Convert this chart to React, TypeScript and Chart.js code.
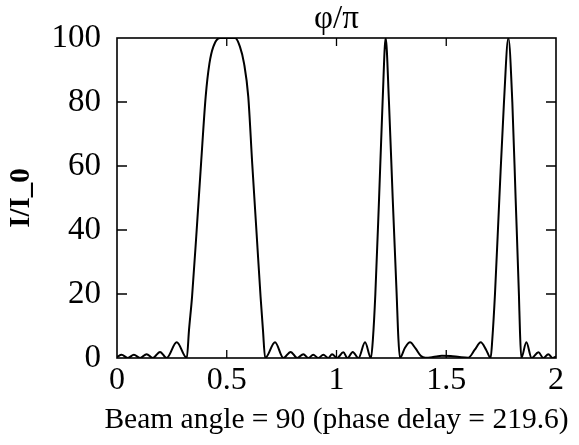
import React, { useEffect, useRef } from "react";
import { Chart, registerables } from "chart.js";

Chart.register(...registerables);

const phi = [
  0.0, 0.021, 0.049, 0.077, 0.105, 0.135, 0.163, 0.196, 0.226, 0.272, 0.318,
  0.328, 0.342, 0.363, 0.383, 0.404, 0.421, 0.439, 0.469, 0.503, 0.538,
  0.56, 0.579, 0.598, 0.616, 0.635, 0.654, 0.665, 0.675,
  0.72, 0.758, 0.791, 0.821, 0.849, 0.872, 0.894, 0.917, 0.94, 0.963, 0.98,
  1.003, 1.031, 1.05, 1.074, 1.1, 1.13, 1.157,
  1.166, 1.177, 1.194, 1.21, 1.224, 1.239, 1.256, 1.274, 1.282, 1.289,
  1.312, 1.335, 1.36, 1.385, 1.405, 1.44, 1.48, 1.52, 1.56, 1.6,
  1.63, 1.657, 1.682, 1.702,
  1.71, 1.722, 1.742, 1.763, 1.783, 1.801, 1.816, 1.831, 1.836, 1.842,
  1.865, 1.889, 1.92, 1.942, 1.965, 1.985, 2.0,
];

const intensity = [
  0.3, 1.0, 0, 1.0, 0, 1.2, 0, 1.9, 0, 4.9, 0,
  8.7, 19.2, 40, 60.8, 81.7, 92, 97.3, 100, 100, 100,
  97.3, 92, 81.7, 60.8, 40, 19.2, 8.7, 0,
  4.9, 0, 1.9, 0, 1.2, 0, 1.0, 0, 1.0, 0, 1.2,
  0, 1.8, 0, 1.9, 0, 4.9, 0,
  6, 20, 50, 80, 100, 80, 50, 20, 6, 0,
  3.2, 4.9, 3.0, 0.6, 0.1, 0.3, 0.7, 0.6, 0.3, 0.1,
  2.6, 4.9, 2.5, 0,
  6, 20, 50, 80, 100, 80, 50, 20, 8, 0,
  4.9, 0, 1.8, 0, 1.2, 0, 0.5,
];

const xTicks = [0, 0.5, 1, 1.5, 2];
const xTickLabels = ["0", "0.5", "1", "1.5", "2"];
const yTicks = [0, 20, 40, 60, 80, 100];

const topTitle = "φ/π";
const xTitle = "Beam angle = 90 (phase delay = 219.6)";
const yTitle = "I/I_0";

const FONT = "'Liberation Serif', 'Times New Roman', serif";

const frameTicks = {
  id: "frameTicks",
  afterDatasetsDraw(chart: any) {
    const { ctx, chartArea, scales } = chart;
    const { left, right, top, bottom } = chartArea;
    ctx.save();
    ctx.strokeStyle = "#000";
    ctx.lineWidth = 1.6;
    ctx.strokeRect(left, top, right - left, bottom - top);
    ctx.lineWidth = 1.3;
    const xs = scales.x;
    const ys = scales.y;
    ctx.beginPath();
    xTicks.forEach((v) => {
      if (v === xs.min || v === xs.max) return;
      const px = xs.getPixelForValue(v);
      ctx.moveTo(px, bottom);
      ctx.lineTo(px, bottom - 8);
      ctx.moveTo(px, top);
      ctx.lineTo(px, top + 8);
    });
    yTicks.forEach((v) => {
      if (v === ys.min || v === ys.max) return;
      const py = ys.getPixelForValue(v);
      ctx.moveTo(left, py);
      ctx.lineTo(left + 10, py);
      ctx.moveTo(right, py);
      ctx.lineTo(right - 10, py);
    });
    ctx.stroke();

    // x-axis title, drawn without width squeezing
    ctx.fillStyle = "#000";
    ctx.font = `29.5px ${FONT}`;
    ctx.textAlign = "center";
    ctx.textBaseline = "middle";
    ctx.fillText(xTitle, (left + right) / 2, xs.bottom - 25);
    ctx.restore();
  },
};

export default function App() {
  const canvasRef = useRef<HTMLCanvasElement | null>(null);

  useEffect(() => {
    const canvas = canvasRef.current;
    if (!canvas) return;
    const points = phi.map((x, i) => ({ x, y: intensity[i] }));
    const chart = new Chart(canvas, {
      type: "line",
      data: {
        datasets: [
          {
            data: points,
            borderColor: "#000",
            borderWidth: 2,
            pointRadius: 0,
            fill: false,
            cubicInterpolationMode: "monotone",
          } as any,
        ],
      },
      options: {
        animation: false,
        responsive: false,
        maintainAspectRatio: false,
        layout: { padding: { left: 0, right: 23, top: 0, bottom: 0 } },
        plugins: {
          legend: { display: false },
          tooltip: { enabled: false },
          title: { display: false },
        },
        scales: {
          x: {
            type: "linear",
            position: "bottom",
            min: 0,
            max: 2,
            afterBuildTicks: (s: any) => {
              s.ticks = xTicks.map((value) => ({ value }));
            },
            afterFit: (s: any) => {
              s.height = 87;
            },
            grid: { display: false, drawTicks: false },
            border: { display: false },
            ticks: {
              color: "#000",
              padding: 3,
              maxRotation: 0,
              autoSkip: false,
              font: { family: FONT, size: 32 },
              callback: (v: any) => {
                const i = xTicks.indexOf(Number(v));
                return i >= 0 ? xTickLabels[i] : "";
              },
            },
            title: { display: false },
          },
          x2: {
            type: "linear",
            position: "top",
            min: 0,
            max: 2,
            afterFit: (s: any) => {
              s.height = 38;
            },
            grid: { display: false, drawTicks: false },
            border: { display: false },
            ticks: { display: false },
            title: {
              display: true,
              text: topTitle,
              color: "#000",
              padding: { top: 0, bottom: 0 },
              font: { family: FONT, size: 33 },
            },
          },
          y: {
            type: "linear",
            min: 0,
            max: 100,
            afterBuildTicks: (s: any) => {
              s.ticks = yTicks.map((value) => ({ value }));
            },
            afterFit: (s: any) => {
              s.width = 117;
            },
            grid: { display: false, drawTicks: false },
            border: { display: false },
            ticks: {
              color: "#000",
              padding: 16,
              font: { family: FONT, size: 33 },
            },
            title: {
              display: true,
              text: yTitle,
              color: "#000",
              padding: { top: 4, bottom: 0 },
              font: { family: FONT, size: 29, weight: "bold" },
            },
          },
        },
      } as any,
      plugins: [frameTicks],
    });
    return () => chart.destroy();
  }, []);

  return (
    <div style={{ position: "absolute", left: 0, top: 0, width: 579, height: 445, background: "#fff" }}>
      <canvas ref={canvasRef} width={579} height={445} />
    </div>
  );
}
